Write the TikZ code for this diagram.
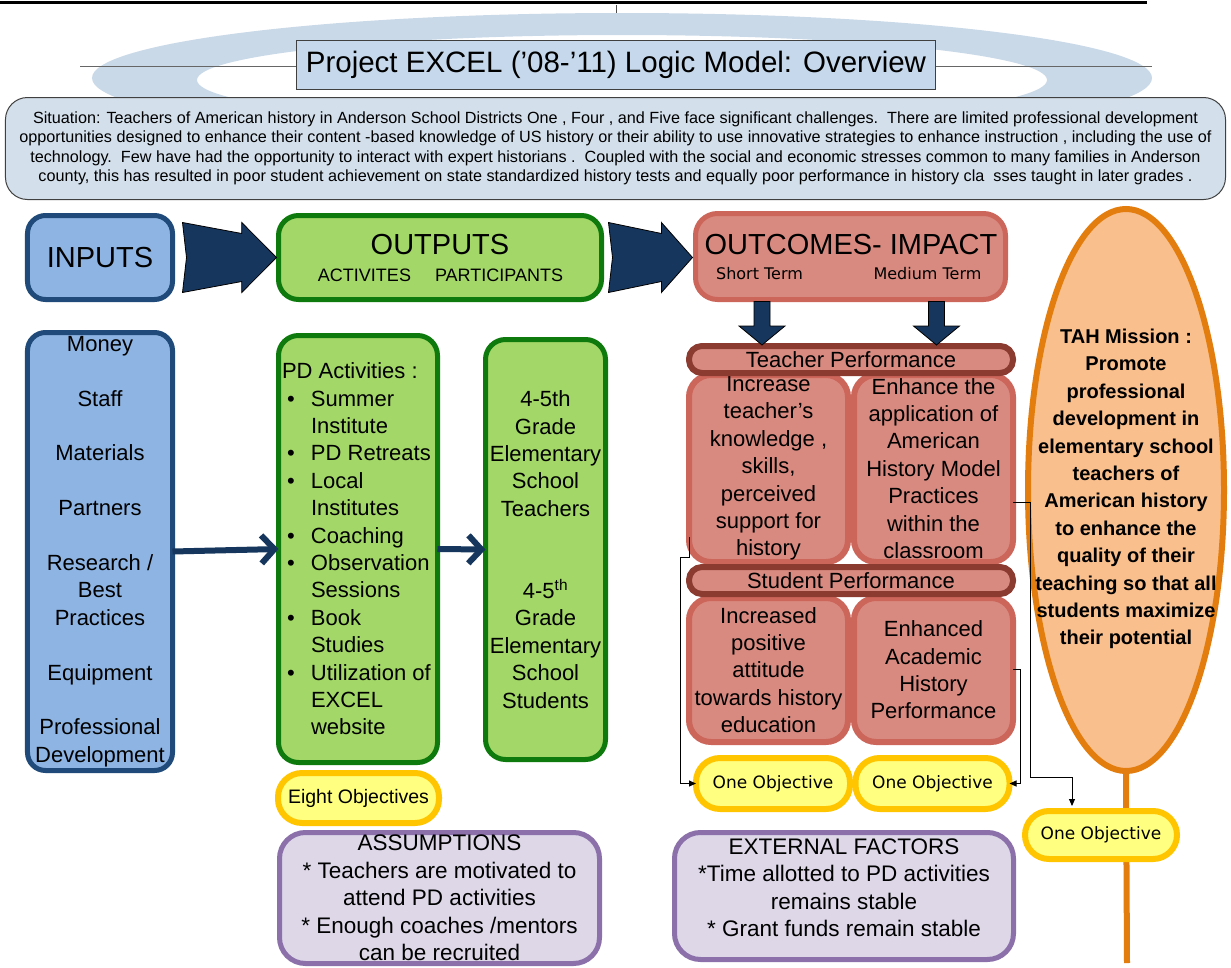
\documentclass[tikz,border=0pt]{standalone}
\usepackage{fontspec}
\setmainfont{Liberation Sans}
\newfontfamily\dejavu{DejaVu Sans}
\usetikzlibrary{shapes.geometric,arrows.meta,calc}
\definecolor{ringc}{HTML}{CAD9E8}
\definecolor{titlefill}{HTML}{C6D9EC}
\definecolor{sitfill}{HTML}{D3DFEB}
\definecolor{infill}{HTML}{8DB4E2}
\definecolor{indraw}{HTML}{1F4A7A}
\definecolor{grfill}{HTML}{A3D767}
\definecolor{grdraw}{HTML}{0E7A0E}
\definecolor{salfill}{HTML}{D98A80}
\definecolor{saldraw}{HTML}{CC655A}
\definecolor{bardraw}{HTML}{8C3B31}
\definecolor{yelfill}{HTML}{FFFF80}
\definecolor{yeldraw}{HTML}{FFC600}
\definecolor{orfill}{HTML}{F9BF8D}
\definecolor{ordraw}{HTML}{E27D0E}
\definecolor{lavfill}{HTML}{DDD7E8}
\definecolor{lavdraw}{HTML}{8B70AA}
\definecolor{arrnavy}{HTML}{17365D}
\newcommand\pdbul{\makebox[29bp][l]{\hspace*{5bp}•}}
\newcommand\pdind{\hspace*{29bp}}
\newcommand\blockarrow[4]{%
  \draw[blockarr] let \p1=($(#1.east)+(#3,0)$), \p2=($(#2.west)+(-#4,0)$), \n1={\x2-\x1} in
  (\x1,\y1+35bp) -- (\x1+0.63*\n1,\y1+24bp) -- (\x1+0.63*\n1,\y1+35bp) -- (\x2,\y1)
  -- (\x1+0.63*\n1,\y1-35bp) -- (\x1+0.63*\n1,\y1-24bp) -- (\x1,\y1-35bp) -- (\x1+4bp,\y1) -- cycle;}
\newcommand\downarr[1]{%
  \draw[blockarr] let \p1=($(outcomes.south)+(#1,0)$), \p2=(tbar.north) in
  (\x1-8bp,\y1-2bp) -- (\x1-8bp,\y2+20bp) -- (\x1-23bp,\y2+20bp) -- (\x1,\y2+1bp)
  -- (\x1+23bp,\y2+20bp) -- (\x1+8bp,\y2+20bp) -- (\x1+8bp,\y1-2bp) -- cycle;}
\begin{document}
\begin{tikzpicture}[x=1bp,y=-1bp,
  every node/.style={inner sep=0pt, outer sep=0pt},
  t22/.style={font=\fontsize{22bp}{27.4bp}\selectfont, align=center},
  inbox/.style={draw=indraw, fill=infill, line width=5bp, rounded corners=18bp},
  grbox/.style={draw=grdraw, fill=grfill, line width=5bp, rounded corners=20bp},
  salbox/.style={draw=saldraw, fill=salfill, line width=6bp, rounded corners=22bp},
  perfbar/.style={draw=bardraw, fill=salfill, line width=6bp, rounded corners=13bp},
  yelbox/.style={draw=yeldraw, fill=yelfill, line width=6bp, rounded corners=24bp},
  lavbox/.style={draw=lavdraw, fill=lavfill, line width=5bp, rounded corners=26bp},
  conn/.style={draw=black, line width=0.9bp, -{Triangle[length=7bp,width=6bp]}},
  navarr/.style={draw=arrnavy, line width=6bp, -{Straight Barb[length=13bp,width=28bp]}},
  blockarr/.style={fill=arrnavy, draw=black, line width=0.8bp, line join=miter}]
\useasboundingbox (0,0) rectangle (1231,968);
\fill[white] (0,0) rectangle (1231,968);
% top decorations
\draw[line width=3bp] (0,2) -- (1147,2);
\draw[line width=0.8bp, black!70] (616,5) -- (616,15);
\fill[ringc, even odd rule] (622,78) ellipse [x radius=530bp, y radius=65bp]
  (622,80) ellipse [x radius=425bp, y radius=45bp];
\draw[black!60, line width=1bp] (80,66) -- (1152,66);
\node[draw=black!75, fill=titlefill, line width=1bp, minimum width=639bp, minimum height=49bp,
  font=\fontsize{29.5bp}{32bp}\selectfont] (title) at (616,65) {Project EXCEL (’08-’11) Logic Model: Overview};
\node[draw=black!75, fill=sitfill, line width=1bp, rounded corners=22bp, minimum width=1220bp,
  minimum height=102bp, align=center, font=\fontsize{16.2bp}{19.4bp}\selectfont] (sit) at (615.5,148.5)
  {Situation: Teachers of American history in Anderson School Districts One , Four , and Five face significant challenges.\ \ There are limited professional development\\
   opportunities designed to enhance their content -based knowledge of US history or their ability to use innovative strategies to enhance instruction , including the use of\\
   technology.\ \ Few have had the opportunity to interact with expert historians .\ \ Coupled with the social and economic stresses common to many families in Anderson\\
   county, this has resulted in poor student achievement on state standardized history tests and equally poor performance in history cla\hspace{9bp}sses taught in later grades .};
% headers
\node[inbox, minimum width=145bp, minimum height=84bp, font=\fontsize{29bp}{32bp}\selectfont] (inputs) at (100,257.5) {INPUTS};
\node[grbox, minimum width=323bp, minimum height=84bp] (outputs) at (440,257.5) {};
\node[font=\fontsize{29bp}{32bp}\selectfont] (outputsT) at (440,245) {OUTPUTS};
\node[font=\fontsize{18bp}{20bp}\selectfont] (outputsS) at (440.5,275) {ACTIVITES\hspace{24bp}PARTICIPANTS};
\node[salbox, line width=5bp, minimum width=310bp, minimum height=86bp] (outcomes) at (850.5,256.5) {};
\node[font=\fontsize{29bp}{32bp}\selectfont] (outcomesT) at (851,245) {OUTCOMES- IMPACT};
\node[font=\dejavu\fontsize{16bp}{18bp}\selectfont] (shortT) at (759.5,274) {Short Term};
\node[font=\dejavu\fontsize{16bp}{18bp}\selectfont] (medT) at (927.5,274) {Medium Term};
\blockarrow{inputs}{outputs}{10}{2}
\blockarrow{outputs}{outcomes}{7}{3}
% inputs list
\node[inbox, minimum width=145bp, minimum height=438bp, t22] (inlist) at (100,551.5)
  {Money\\[27.4bp]Staff\\[27.4bp]Materials\\[27.4bp]Partners\\[27.4bp]Research /\\Best\\Practices\\[27.4bp]Equipment\\[27.4bp]Professional\\Development};
% outputs
\node[grbox, minimum width=159bp, minimum height=427bp] (pd) at (358,549) {};
\node[t22, align=left, anchor=west] (pdtext) at (282,549)
  {PD Activities :\\
   \pdbul Summer\\ \pdind Institute\\ \pdbul PD Retreats\\ \pdbul Local\\ \pdind Institutes\\
   \pdbul Coaching\\ \pdbul Observation\\ \pdind Sessions\\ \pdbul Book\\ \pdind Studies\\
   \pdbul Utilization of\\ \pdind EXCEL\\ \pdind website};
\node[grbox, minimum width=120bp, minimum height=420bp, t22] (part) at (545.5,549.5)
  {4-5th\\Grade\\Elementary\\School\\Teachers\\[54.8bp]4-5\textsuperscript{th}\\Grade\\Elementary\\School\\Students};
\node[yelbox, minimum width=161bp, minimum height=50bp, font=\fontsize{19.5bp}{22bp}\selectfont] (eight) at (358.5,798) {Eight Objectives};
\draw[navarr] (inlist.east) -- (pd.west);
\draw[navarr] (pd.east) -- (part.west);
% outcomes
\node[salbox, minimum width=159bp, minimum height=187bp, t22] (inc) at (768.5,468.5)
  {Increase\\teacher’s\\knowledge ,\\skills,\\perceived\\support for\\history};
\node[salbox, minimum width=159bp, minimum height=187bp, t22] (enh) at (933.5,468.5)
  {Enhance the\\application of\\American\\History Model\\Practices\\within the\\classroom};
\node[salbox, minimum width=159bp, minimum height=144bp, t22] (att) at (768.5,670)
  {Increased\\positive\\attitude\\towards history\\education};
\node[salbox, minimum width=159bp, minimum height=144bp, t22] (ach) at (933.5,670)
  {Enhanced\\Academic\\History\\Performance};
\node[perfbar, minimum width=324bp, minimum height=27bp, font=\fontsize{22bp}{24bp}\selectfont] (tbar) at (851,359.5) {Teacher Performance};
\node[perfbar, minimum width=324bp, minimum height=27bp, font=\fontsize{22bp}{24bp}\selectfont] (sbar) at (851,580.5) {Student Performance};
\downarr{-88.5}
\downarr{86}
\node[yelbox, minimum width=154bp, minimum height=51bp, font=\dejavu\fontsize{17bp}{20bp}\selectfont] (obj1) at (773,783.5) {One Objective};
\node[yelbox, minimum width=154bp, minimum height=51bp, font=\dejavu\fontsize{17bp}{20bp}\selectfont] (obj2) at (932.5,783.5) {One Objective};
% mission
\node[ellipse, draw=ordraw, fill=orfill, line width=6bp, minimum width=196bp, minimum height=562bp] (tah) at (1126,490) {};
\coordinate (tahend) at (1127,963);
\draw[ordraw, line width=6bp] (tah.south) -- (tahend);
\node[font=\bfseries\fontsize{20bp}{27.4bp}\selectfont, align=center] (tahT) at (1126,489)
  {TAH Mission :\\Promote\\professional\\development in\\elementary school\\teachers of\\American history\\to enhance the\\quality of their\\teaching so that all\\students maximize\\their potential};
\node[yelbox, minimum width=152bp, minimum height=48bp, font=\dejavu\fontsize{17bp}{20bp}\selectfont] (obj3) at (1101,835) {One Objective};
% thin connectors
\draw[conn] ($(inc.south west)+(0,-25)$) -- ++(0,20) -- ++(-9,0) |- (obj1.west);
\draw[conn] ($(ach.east)+(0,-1)$) -- ++(7,0) |- (obj2.east);
\draw[conn] ($(enh.east)+(0,33.5)$) -- ++(17,0) -- ++(0,275) -| ($(obj3.north)+(-29,-5)$);
% bottom
\node[lavbox, minimum width=320bp, minimum height=131bp, font=\fontsize{22.5bp}{27.5bp}\selectfont, align=center] (assum) at (439.5,898)
  {ASSUMPTIONS\\* Teachers are motivated to\\attend PD activities\\* Enough coaches /mentors\\can be recruited};
\node[lavbox, minimum width=339bp, minimum height=127bp] (ext) at (844,896) {};
\node[font=\fontsize{22.5bp}{27.5bp}\selectfont, align=center] (extT) at (844,887.5)
  {EXTERNAL FACTORS\\*Time allotted to PD activities\\remains stable\\* Grant funds remain stable};
\end{tikzpicture}
\end{document}
